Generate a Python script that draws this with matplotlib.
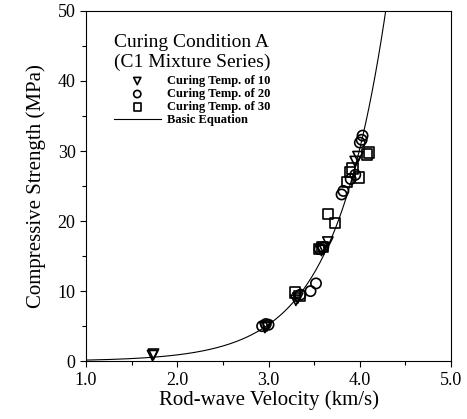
import numpy as np
import matplotlib
matplotlib.use("Agg")
import matplotlib.pyplot as plt

plt.rcParams['font.family'] = ['Liberation Serif', 'DejaVu Serif']

# measured points, (velocity km/s, strength MPa)
v_10 = [1.73, 1.74, 2.96, 2.98, 3.30, 3.32, 3.58, 3.60, 3.65, 3.95, 3.98]
s_10 = [0.8, 1.0, 4.8, 5.0, 8.7, 9.0, 15.8, 16.2, 17.0, 28.5, 29.2]

v_20 = [2.93, 2.97, 3.00, 3.35, 3.46, 3.52, 3.56, 3.60, 3.80, 3.82, 3.90, 3.95, 4.00, 4.02, 4.03]
s_20 = [5.0, 5.3, 5.2, 9.5, 10.0, 11.1, 16.0, 16.3, 23.8, 24.3, 26.0, 26.6, 31.2, 31.6, 32.2]

v_30 = [3.29, 3.34, 3.55, 3.59, 3.65, 3.73, 3.86, 3.89, 3.92, 3.99, 4.08, 4.10]
s_30 = [9.8, 9.3, 16.0, 16.3, 21.0, 19.7, 25.6, 27.0, 27.5, 26.2, 29.5, 29.8]

# basic equation S = a * exp(b * V)
eq_a = 0.0266
eq_b = 1.76

fig = plt.figure(figsize=(4.67, 4.19), dpi=100)
ax = fig.add_axes([0.184, 0.138, 0.782, 0.836])

vv = np.linspace(1.0, 4.3, 300)
ax.plot(vv, eq_a * np.exp(eq_b * vv), color='black', lw=0.8, label='Basic Equation')

mk = dict(facecolor='none', edgecolor='black', linewidths=1.2)
ax.scatter(v_10, s_10, marker='v', s=55, label='Curing Temp. of 10', **mk)
ax.scatter(v_20, s_20, marker='o', s=55, label='Curing Temp. of 20', **mk)
ax.scatter(v_30, s_30, marker='s', s=55, label='Curing Temp. of 30', **mk)

ax.set_xlim(1.0, 5.0)
ax.set_ylim(0, 50)
ax.set_xticks([1.0, 2.0, 3.0, 4.0, 5.0])
ax.set_xticks(np.arange(1.0, 5.01, 0.5), minor=True)
ax.set_yticks(range(0, 51, 10))
ax.set_yticks(range(0, 51, 5), minor=True)
ax.tick_params(which='both', direction='out', length=4, width=0.8, labelsize=13)
ax.tick_params(which='minor', length=3)
ax.set_xticklabels(['1.0', '2.0', '3.0', '4.0', '5.0'])
ax.set_yticklabels([str(t) for t in range(0, 51, 10)])

ax.set_xlabel('Rod-wave Velocity (km/s)', fontsize=15, labelpad=1)
ax.set_ylabel('Compressive Strength (MPa)', fontsize=15, labelpad=8)

h, l = ax.get_legend_handles_labels()
order = [1, 2, 3, 0]
leg = ax.legend([h[i] for i in order], [l[i] for i in order],
                title='Curing Condition A\n(C1 Mixture Series)',
                loc='upper left', bbox_to_anchor=(0.055, 0.955), frameon=False,
                prop={'size': 9, 'weight': 'bold'}, handlelength=3.8,
                labelspacing=0.08, borderaxespad=0.2, handletextpad=0.5,
                markerscale=0.7,
                title_fontproperties={'size': 14})
leg._legend_box.align = 'left'
leg._legend_box.sep = 3

fig.savefig('out.png', dpi=100)
